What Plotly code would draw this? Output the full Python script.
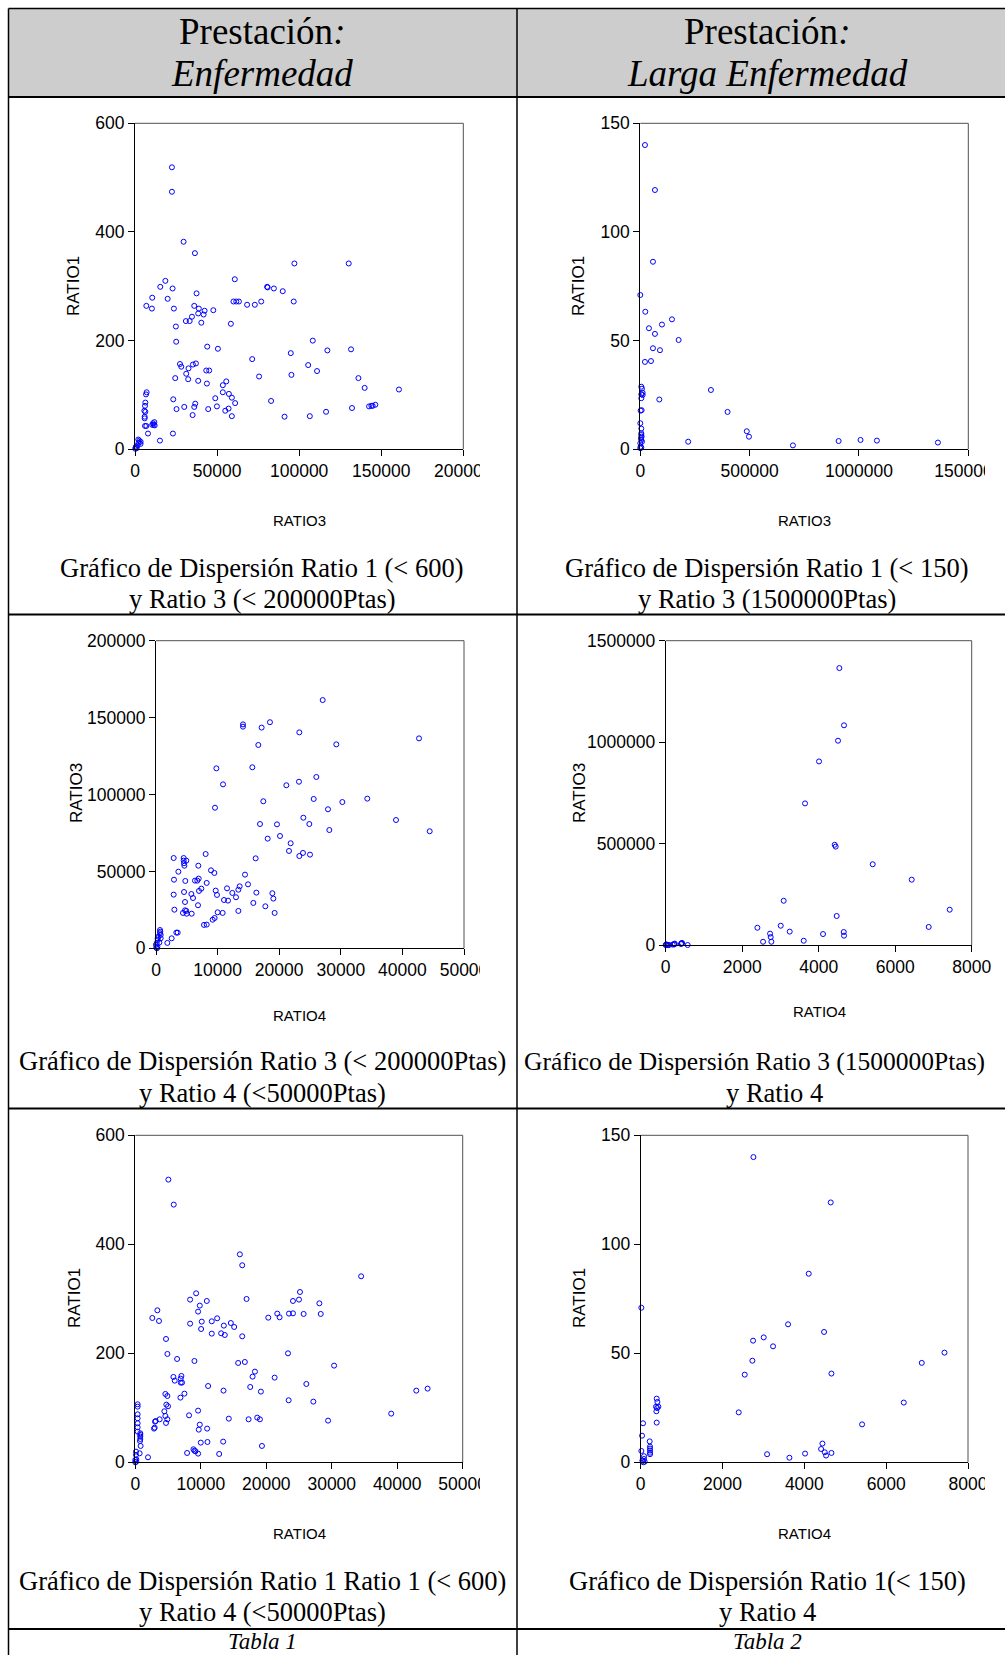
import plotly.graph_objects as go

W, H = 1005, 1655

# ---------------- DATA ----------------
# Panel 1: Enfermedad, RATIO3 (x) vs RATIO1 (y)
enf_p1_ratio3 = [22500, 22500, 29600, 36500, 97100, 130200, 60800, 18500, 15400, 22900, 80500, 80800,
                 84600, 90000, 37500, 10500, 19900, 60000, 61700, 63300, 76900, 96700, 68300, 73000,
                 6900, 36100, 10300, 23700, 38900, 42400, 47700, 38500, 41800, 34700, 31000, 33300,
                 40400, 58400, 24900, 25100, 108300, 44000, 50500, 117200, 131600, 94900, 71400, 27400,
                 28200, 35300, 37100, 105500, 32600, 43400, 45200, 110900, 31200, 95300, 75600, 24500,
                 136100, 32400, 38500, 55600, 43800, 53500, 139900, 160800, 53500, 57200, 48900, 59000,
                 23300, 82900, 61000, 36700, 146400, 142600, 144000, 144800, 49900, 30000, 36100, 132200,
                 25300, 44600, 57000, 55000, 116400, 35100, 59000, 91100, 106500, 23100, 15200,
                 7100, 6700, 6300, 6100, 5700, 6300, 5900, 5900, 6100, 6900, 11000, 11800, 10500, 12000,
                 11400, 7900, 2600, 2200, 3400, 1600, 1000, 400, 2000, 3400, 600, 200]
enf_p1_ratio1 = [519, 474, 382, 361, 342, 342, 313, 310, 299, 296, 299, 298,
                 296, 291, 287, 279, 277, 272, 272, 272, 272, 272, 266, 266,
                 264, 264, 259, 259, 259, 255, 256, 250, 248, 244, 236, 236,
                 233, 231, 226, 198, 200, 189, 185, 182, 184, 177, 166, 157,
                 152, 156, 158, 155, 149, 145, 145, 144, 139, 137, 134, 131,
                 131, 129, 126, 125, 121, 118, 113, 110, 105, 102, 94, 95,
                 92, 89, 85, 84, 82, 79, 80, 80, 79, 78, 78, 76,
                 74, 74, 75, 71, 69, 63, 61, 60, 61, 29, 16,
                 105, 101, 86, 80, 71, 69, 60, 57, 43, 43, 48, 50, 45, 44,
                 45, 29, 16, 12, 10, 7, 2, 3, 18, 14, 5, 1]

# Panel 2: Larga Enfermedad, RATIO3 (x) vs RATIO1 (y)
larga_p2_ratio3 = [21300, 67000, 58000, 0, 22900, 144800, 99000, 39600, 67000, 175300, 58000, 89900,
                   48800, 21300, 323000, 86900, 399000, 487000, 497000, 219000, 698000, 907000, 1007000,
                   1082000, 1361000,
                   4600, 7600, 10700, 4600, 10700, 4600, 1500, 6100, 0, 4600, 4600, 4600, 6100, 3000,
                   7600, 0, 1500, 0, 4600, 4600]
larga_p2_ratio1 = [140, 119.3, 86.3, 71, 63.3, 59.8, 57.4, 55.7, 53.1, 50.3, 46.5, 45.6,
                   40.6, 40.2, 27.3, 22.9, 17.2, 8.3, 5.8, 3.5, 1.8, 3.8, 4.3,
                   4.0, 3.1,
                   28.8, 27.9, 26, 25.3, 25, 23.5, 17.8, 18, 12, 9.5, 7.4, 6.6, 5.8, 5.1,
                   3.5, 2.8, 1.2, 0.5, 0.8, 4.3]

# Panel 3: Enfermedad, RATIO4 (x) vs RATIO3 (y)
enf_p3_ratio4 = [27060, 18500, 14120, 14120, 17150, 23270, 42700, 29270, 16610, 9800, 15640, 26030,
                 10880, 21160, 23210, 25600, 34300, 17420, 30250, 9580, 27920, 38960, 23920, 16880,
                 19640, 24890, 28140, 44430, 20130, 18130, 21860, 21590, 23860, 23270, 25000, 8060,
                 2870, 4490, 4490, 4920, 4550, 4600, 6870, 16180, 3630, 8930, 9470, 14450,
                 2920, 4760, 6330, 6710, 6930, 8230, 14940, 13580, 11530, 13370, 7360, 6980,
                 9690, 4550, 2870, 5740, 12390, 16290, 18890, 6010, 9900, 12990, 19050, 4710,
                 11040, 11690, 15800, 6820, 17750, 2980, 4710, 4920, 13370, 4380, 4980, 5790,
                 10010, 10820, 19260, 7790, 8230, 9200, 9520, 3300, 3520, 2540, 1840,
                 650, 700, 650, 760, 380, 270, 760, 270, 540, 110, 0, 220, 50, 160]
enf_p3_ratio3 = [161400, 147000, 145600, 144100, 143500, 140400, 136500, 132600, 132200, 117000, 117700, 111400,
                 106600, 106000, 108300, 97100, 97300, 95600, 95100, 91400, 90400, 83400, 84900, 80800,
                 80600, 80800, 76900, 76100, 73000, 71300, 68300, 63300, 62000, 60000, 60900, 61300,
                 58700, 58700, 57000, 57000, 55300, 53700, 53700, 58500, 49800, 50700, 49000, 47900,
                 44600, 43800, 44000, 44000, 45300, 42500, 41600, 40300, 39000, 38100, 38800, 37300,
                 37500, 36600, 34900, 35300, 36000, 36200, 35800, 32700, 34700, 33200, 32300, 30100,
                 31400, 31000, 29500, 28000, 27300, 25100, 24700, 24300, 24300, 23000, 22500, 22500,
                 23400, 23000, 23000, 15200, 15400, 18600, 19700, 10200, 10200, 6500, 3500,
                 11900, 10800, 9800, 8700, 7600, 6500, 6500, 5400, 3700, 3300, 2200, 1100, 400, 0]

# Panel 4: Larga Enfermedad, RATIO4 (x) vs RATIO3 (y)
larga_p4_ratio4 = [4540, 4662, 4505, 4009, 3643, 4418, 4444, 5412, 6431, 3085, 7425, 4470,
                   3007, 6876, 2397, 3242, 4654, 2728, 4113, 4662, 2745, 2545, 2763, 3608,
                   17, 44, 87, 183, 235, 230, 410, 427, 420, 400, 575, 0, 16, 60, 220]
larga_p4_ratio3 = [1365000, 1083000, 1007000, 905000, 698000, 494000, 485000, 398000, 322000, 218000, 174000, 143000,
                   95000, 89000, 85000, 66000, 64000, 56000, 54000, 46000, 39000, 16000, 16000, 21000,
                   3000, 0, 0, 2000, 7000, 4000, 7000, 10000, 8500, 5000, 0, 0, 1500, 500, 3000]

# Panel 5: Enfermedad, RATIO4 (x) vs RATIO1 (y)
enf_p5_ratio4 = [5050, 5870, 15970, 16330, 34490, 9290, 25150, 8370, 16990, 25000, 10920, 24080,
                 28110, 9850, 3370, 9590, 21680, 23470, 24080, 25710, 28320, 22040, 20310, 2600,
                 12500, 3620, 8370, 10150, 11680, 14590, 13520, 15100, 10050, 11680, 13110, 13670,
                 16330, 4690, 4900, 23320, 6380, 9030, 15710, 16730, 30360, 18270, 17910, 21280,
                 5820, 7040, 6020, 6940, 6940, 7140, 26120, 11120, 17550, 13470, 19180, 42910,
                 44640, 4590, 7500, 4900, 6890, 23420, 27190, 4740, 5000, 9590, 4440, 8210,
                 4590, 39080, 3720, 4900, 14280, 17300, 18620, 19030, 29440, 4690, 3010, 3110,
                 2960, 2860, 9850, 10970, 9690, 10000, 11020, 13420, 19340, 8880, 9030, 9180,
                 7910, 9590, 12810, 1940,
                 357, 357, 357, 357, 357, 357, 357, 765, 765, 765, 765, 714, 816, 663, 102, 102,
                 153, 153, 0, 0]
enf_p5_ratio1 = [518.7, 472.8, 381.6, 361.5, 341.3, 310.1, 312.5, 298.5, 299.7, 298.5, 296, 296,
                 291.7, 287.5, 278.9, 276.5, 272.8, 272.8, 273.4, 272.2, 272.2, 266.1, 265.4, 264.8,
                 264.2, 259.3, 254.4, 258.1, 258.7, 255.6, 250.8, 248.3, 244.6, 236.1, 236.7, 233.6,
                 231.2, 226.3, 198.8, 200, 189.6, 185.9, 182.3, 184.1, 177.4, 166.4, 157.2, 155.4,
                 156.6, 158.4, 149.8, 153.5, 146.2, 146.2, 143.7, 140, 138.2, 131.5, 129.7, 131.5,
                 135.2, 125.4, 126, 121.7, 118.7, 113.8, 111.3, 105.8, 102.8, 94.8, 93.6, 86.2,
                 85, 89.3, 78.9, 78.9, 80.1, 78.9, 82, 78.9, 76.5, 72.2, 74.6, 75.8,
                 63.6, 61.8, 69.1, 61.8, 59.9, 36.1, 37.3, 37.9, 30, 23.9, 21.4, 20.2,
                 17.1, 15.9, 15.3, 9.2,
                 106.4, 102.1, 88.1, 80.7, 71.6, 64.2, 56.3, 53.2, 50.2, 47.1, 42.8, 39.1, 30, 16.5, 19.6, 13.5,
                 5.5, 1.2, 0, 4.3]

# Panel 6: Larga Enfermedad, RATIO4 (x) vs RATIO1 (y)
larga_p6_ratio4 = [2755, 4645, 4107, 16, 3602, 4482, 3007, 2747, 3235, 7425, 2730, 6870,
                   4662, 2543, 6430, 2396, 5411, 4442, 4409, 4499, 4662, 4018, 3089, 4531, 3635,
                   391, 408, 375, 432, 400, 383, 391, 57, 33, 220, 16, 228, 228, 228, 228, 228,
                   81, 81, 41, 98, 65]
larga_p6_ratio1 = [140, 119.2, 86.5, 70.9, 63.3, 59.8, 57.3, 55.8, 53.2, 50.3, 46.6, 45.6,
                   40.7, 40.2, 27.4, 22.9, 17.4, 8.6, 6.1, 4.6, 4.3, 4.0, 3.7, 3.1, 2.1,
                   29.2, 27.7, 25.5, 25.5, 24.9, 23.4, 18.2, 17.9, 12.2, 9.6, 5.2, 7.2, 6.3, 5.4, 4.4, 3.7,
                   2.8, 1.5, 0.8, 0.3, 0]

# Tick values
ticks_r1_600 = [0, 200, 400, 600]
ticks_r1_150 = [0, 50, 100, 150]
ticks_r3_200k = [0, 50000, 100000, 150000, 200000]
ticks_r3_1500k = [0, 500000, 1000000, 1500000]
ticks_r4_50k = [0, 10000, 20000, 30000, 40000, 50000]
ticks_r4_8k = [0, 2000, 4000, 6000, 8000]

# Texts
header_line1 = "Prestación<i>:</i>"
header_left = "Enfermedad"
header_right = "Larga Enfermedad"
captions = [
    ("Gráfico de Dispersión Ratio 1 (< 600)", "y Ratio 3 (< 200000Ptas)"),
    ("Gráfico de Dispersión Ratio 1 (< 150)", "y Ratio 3 (1500000Ptas)"),
    ("Gráfico de Dispersión Ratio 3 (< 200000Ptas)", "y Ratio 4 (<50000Ptas)"),
    ("Gráfico de Dispersión Ratio 3 (1500000Ptas)", "y Ratio 4"),
    ("Gráfico de Dispersión Ratio 1 Ratio 1 (< 600)", "y Ratio 4 (<50000Ptas)"),
    ("Gráfico de Dispersión Ratio 1(< 150)", "y Ratio 4"),
]
footers = ["Tabla 1", "Tabla 2"]

# ---------------- LAYOUT (pixel geometry) ----------------
def fx(x):
    return x / W


def fy(y):
    return 1 - y / H


panels = [
    dict(x=enf_p1_ratio3, y=enf_p1_ratio1, box=(135, 123.3, 463.3, 449.3),
         xr=200000, xt=ticks_r3_200k, yr=600, yt=ticks_r1_600, xtitle="RATIO3", ytitle="RATIO1",
         xtp=(299, 520), ytp=(74, 286)),
    dict(x=larga_p2_ratio3, y=larga_p2_ratio1, box=(640.3, 123.3, 968.3, 449.3),
         xr=1500000, xt=ticks_r3_1500k, yr=150, yt=ticks_r1_150, xtitle="RATIO3", ytitle="RATIO1",
         xtp=(804, 520), ytp=(579, 286)),
    dict(x=enf_p3_ratio4, y=enf_p3_ratio3, box=(156, 640.7, 464, 948.3),
         xr=50000, xt=ticks_r4_50k, yr=200000, yt=ticks_r3_200k, xtitle="RATIO4", ytitle="RATIO3",
         xtp=(299, 1016), ytp=(76, 793)),
    dict(x=larga_p4_ratio4, y=larga_p4_ratio3, box=(665.7, 640.7, 971.7, 945),
         xr=8000, xt=ticks_r4_8k, yr=1500000, yt=ticks_r3_1500k, xtitle="RATIO4", ytitle="RATIO3",
         xtp=(819, 1011), ytp=(579, 793)),
    dict(x=enf_p5_ratio4, y=enf_p5_ratio1, box=(135.3, 1135.3, 462.7, 1462.3),
         xr=50000, xt=ticks_r4_50k, yr=600, yt=ticks_r1_600, xtitle="RATIO4", ytitle="RATIO1",
         xtp=(299, 1533), ytp=(74, 1298)),
    dict(x=larga_p6_ratio4, y=larga_p6_ratio1, box=(640.7, 1135.3, 968, 1462.3),
         xr=8000, xt=ticks_r4_8k, yr=150, yt=ticks_r1_150, xtitle="RATIO4", ytitle="RATIO1",
         xtp=(804, 1533), ytp=(579, 1298)),
]

SANS = "Liberation Sans, Arial, sans-serif"
SERIF = "Liberation Serif, Times New Roman, serif"
TICKFONT = dict(family=SANS, size=17.5, color="black")

fig = go.Figure()
layout = dict(
    width=W, height=H, autosize=False,
    margin=dict(l=0, r=0, t=0, b=0, pad=0, autoexpand=False),
    paper_bgcolor="white", plot_bgcolor="white",
    showlegend=False,
)
shapes = []
annotations = []

# header background
shapes.append(dict(type="rect", xref="paper", yref="paper", x0=fx(8.5), x1=fx(1005), y0=fy(97), y1=fy(8.5),
                   fillcolor="#cdcdcd", line=dict(width=0), layer="below"))

for i, p in enumerate(panels, 1):
    sfx = "" if i == 1 else str(i)
    l, t, r, b = p["box"]
    fig.add_trace(go.Scatter(
        x=p["x"], y=p["y"], mode="markers", xaxis="x" + sfx, yaxis="y" + sfx,
        cliponaxis=False,
        marker=dict(symbol="circle-open", size=5, color="#0000ff", line=dict(width=1, color="#0000ff")),
        hoverinfo="skip",
    ))
    common = dict(showgrid=False, zeroline=False, showline=True, linecolor="black", linewidth=1,
                  ticks="outside", ticklen=6, tickcolor="black", tickwidth=1, tickfont=TICKFONT,
                  tickformat="d", fixedrange=True, automargin=False)
    layout["xaxis" + sfx] = dict(domain=[fx(l), fx(r)], anchor="y" + sfx, range=[0, p["xr"]],
                                 tickvals=p["xt"], **common)
    layout["yaxis" + sfx] = dict(domain=[fy(b), fy(t)], anchor="x" + sfx, range=[0, p["yr"]],
                                 tickvals=p["yt"], **common)
    # top and right frame edges
    shapes.append(dict(type="line", xref="paper", yref="paper", x0=fx(l), x1=fx(r), y0=fy(t), y1=fy(t),
                       line=dict(color="#505050", width=1), layer="below"))
    shapes.append(dict(type="line", xref="paper", yref="paper", x0=fx(r), x1=fx(r), y0=fy(t), y1=fy(b),
                       line=dict(color="#505050", width=1), layer="below"))
    # axis titles
    annotations.append(dict(text=p["xtitle"], x=fx(p["xtp"][0]), y=fy(p["xtp"][1]), xref="paper", yref="paper",
                            showarrow=False, xanchor="center", yanchor="middle",
                            font=dict(family=SANS, size=15, color="black")))
    annotations.append(dict(text=p["ytitle"], x=fx(p["ytp"][0]), y=fy(p["ytp"][1]), xref="paper", yref="paper",
                            showarrow=False, xanchor="center", yanchor="middle", textangle=-90,
                            font=dict(family=SANS, size=17, color="black")))

# white masks that crop the right-most x tick labels (as the embedded images were cropped)
for (x0, x1, ytop) in [(480, 515, 451), (985, 1005, 451), (480, 515, 950), (480, 515, 1464), (985, 1005, 1464)]:
    shapes.append(dict(type="rect", xref="paper", yref="paper", x0=fx(x0), x1=fx(x1), y0=fy(ytop + 32), y1=fy(ytop),
                       fillcolor="white", line=dict(width=0), layer="above"))

# table lines
LINE = dict(color="black", width=1.5)
HLINE = dict(color="black", width=2)
shapes.append(dict(type="line", xref="paper", yref="paper", x0=fx(8.5), x1=fx(1005), y0=fy(8.5), y1=fy(8.5), line=LINE, layer="above"))
for yy in [97, 614.5, 1108.5, 1629]:
    shapes.append(dict(type="line", xref="paper", yref="paper", x0=fx(8.5), x1=fx(1005), y0=fy(yy), y1=fy(yy), line=HLINE, layer="above"))
for xx in [8.5, 517]:
    shapes.append(dict(type="line", xref="paper", yref="paper", x0=fx(xx), x1=fx(xx), y0=fy(1655), y1=fy(8.5), line=LINE, layer="above"))

# header texts
col_centers = [262, 767]
for cx, name in zip(col_centers, [header_left, header_right]):
    annotations.append(dict(text=header_line1, x=fx(cx), y=fy(31), xref="paper", yref="paper", showarrow=False,
                            xanchor="center", yanchor="middle", font=dict(family=SERIF, size=37, color="black")))
    annotations.append(dict(text="<i>" + name + "</i>", x=fx(cx), y=fy(73), xref="paper", yref="paper",
                            showarrow=False, xanchor="center", yanchor="middle",
                            font=dict(family=SERIF, size=37, color="black")))

# captions
cap_rows = [(568, 599), (1061, 1093), (1581, 1612)]
for k, (l1, l2) in enumerate(captions):
    row, col = divmod(k, 2)
    y1, y2 = cap_rows[row]
    cx = col_centers[col]
    if k == 3:
        annotations.append(dict(text=l1, x=fx(522), y=fy(y1), xref="paper", yref="paper", showarrow=False,
                                xanchor="left", yanchor="middle", font=dict(family=SERIF, size=25.5, color="black")))
    else:
        annotations.append(dict(text=l1, x=fx(cx), y=fy(y1), xref="paper", yref="paper", showarrow=False,
                                xanchor="center", yanchor="middle", font=dict(family=SERIF, size=26.5, color="black")))
    cx2 = 774 if k == 3 else cx
    annotations.append(dict(text=l2, x=fx(cx2), y=fy(y2), xref="paper", yref="paper", showarrow=False,
                            xanchor="center", yanchor="middle", font=dict(family=SERIF, size=26.5, color="black")))

for cx, f in zip(col_centers, footers):
    annotations.append(dict(text="<i>" + f + "</i>", x=fx(cx), y=fy(1641), xref="paper", yref="paper",
                            showarrow=False, xanchor="center", yanchor="middle",
                            font=dict(family=SERIF, size=23, color="black")))

layout["shapes"] = shapes
layout["annotations"] = annotations
fig.update_layout(**layout)

fig.write_html("out.html", config={"displayModeBar": False, "staticPlot": True},
               post_script="document.body.style.margin='0';document.body.style.overflow='hidden';")
